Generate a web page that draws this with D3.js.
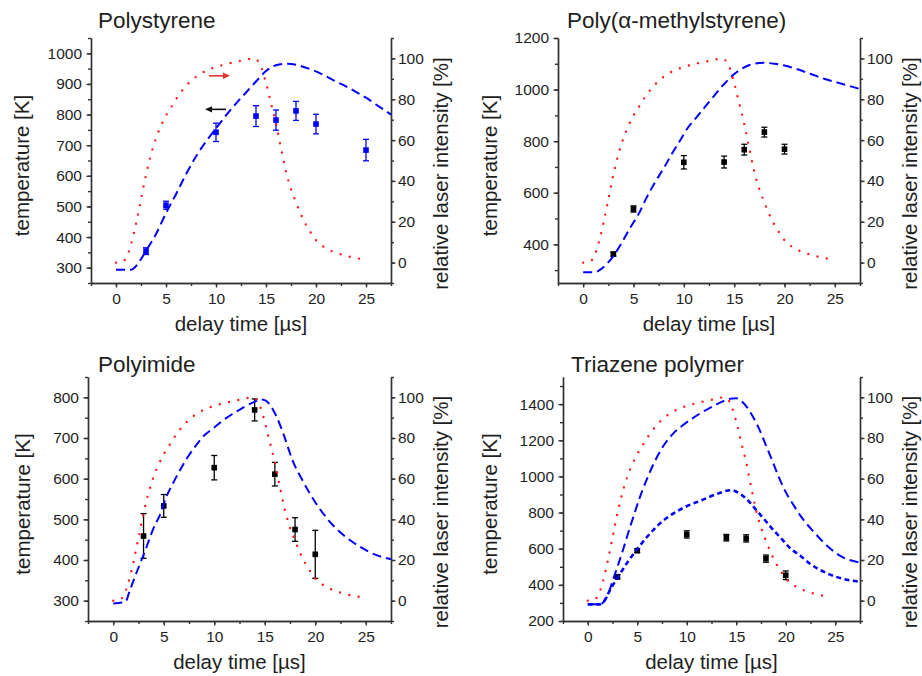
<!DOCTYPE html>
<html><head><meta charset="utf-8">
<script src="https://cdn.jsdelivr.net/npm/d3@7/dist/d3.min.js"></script>
<style>
body{margin:0;background:#fff;}
svg{display:block;font-family:"Liberation Sans",Arial,Helvetica,sans-serif;}
</style></head><body>
<svg id="chart" width="922" height="676"></svg>
<script>
// ---------- shared data ----------
const timeTicks = [0, 5, 10, 15, 20, 25];
const timeMinorTicks = [-2.5, 0, 2.5, 5, 7.5, 10, 12.5, 15, 17.5, 20, 22.5, 25, 27.5];
const intensityTicks = [0, 20, 40, 60, 80, 100];
const intensityMinorTicks = [-10, 0, 10, 20, 30, 40, 50, 60, 70, 80, 90, 100, 110];

// relative laser intensity [%] (red dotted)
const laserTime = [0, 0.5, 1, 1.5, 2, 2.5, 3, 3.5, 4, 4.5, 5, 5.5, 6, 6.5, 7, 7.5, 8, 9, 10, 11, 12, 13, 13.7, 14.1, 14.5, 15, 15.5, 16, 16.5, 17, 17.5, 18, 18.5, 19, 19.5, 20, 21, 22, 23, 24, 24.5];
const laserIntensity = [0, 0.3, 2, 9, 19, 31, 43, 53, 61, 67, 72, 76, 80, 83.5, 86.5, 89, 91, 94, 95.8, 97.2, 98.3, 99.3, 100, 99.2, 96, 88, 78, 68, 56, 44.5, 36, 29.5, 23.5, 18.5, 14.5, 11, 7, 4.8, 3.3, 2.2, 1.8];

// ---------- Polystyrene ----------
const psTempTicks = [300, 400, 500, 600, 700, 800, 900, 1000];
const psTempMinor = [250, 300, 350, 400, 450, 500, 550, 600, 650, 700, 750, 800, 850, 900, 950, 1000, 1050];
const psSimTime = [0, 1.5, 2.0, 2.5, 3.0, 4.0, 5.0, 6.0, 7.0, 8.0, 9.0, 10.0, 11.0, 12.0, 13.0, 14.0, 15.0, 15.5, 16.0, 17.0, 18.0, 19.0, 20.0, 21.0, 22.0, 23.0, 24.0, 25.0, 26.0, 27.5];
const psSimTemp = [293, 293, 305, 328, 355, 410, 478, 540, 605, 663, 712, 755, 797, 836, 872, 908, 942, 954, 961, 966, 963, 953, 941, 925, 908, 892, 874, 855, 833, 800];
const psExpTime = [3, 5, 10, 14, 16, 18, 20, 25];
const psExpTemp = [354, 504, 742, 795, 782, 812, 769, 684];
const psExpErr = [11, 13, 30, 34, 33, 31, 32, 35];
const psArrowRedTime = [9.3, 11.4], psArrowRedIntensity = 91.5;
const psArrowBlackTime = [11.0, 8.9], psArrowBlackTemp = 817;

// ---------- Poly(alpha-methylstyrene) ----------
const pamsTempTicks = [400, 600, 800, 1000, 1200];
const pamsTempMinor = [300, 400, 500, 600, 700, 800, 900, 1000, 1100, 1200];
const pamsSimTime = [0, 1.2, 1.7, 2.3, 3, 3.8, 4.7, 5.5, 6.3, 7.1, 8, 8.8, 9.6, 10.4, 11.3, 12.1, 12.9, 13.9, 14.9, 15.6, 16.6, 17.9, 19, 20, 21, 22, 23, 24, 25, 26, 27.5];
const pamsSimTemp = [292, 292, 302, 322, 354, 404, 466, 517, 581, 638, 695, 750, 801, 852, 894, 933, 971, 1017, 1057, 1077, 1096, 1104, 1100, 1093, 1082, 1069, 1055, 1041, 1030, 1019, 1002];
const pamsExpTime = [3, 5, 10, 14, 16, 18, 20];
const pamsExpTemp = [362, 537, 718, 719, 767, 835, 769];
const pamsExpErr = [8, 12, 26, 23, 21, 19, 19];

// ---------- Polyimide ----------
const piTempTicks = [300, 400, 500, 600, 700, 800];
const piTempMinor = [250, 300, 350, 400, 450, 500, 550, 600, 650, 700, 750, 800, 850];
const piSimTime = [0, 1.2, 1.6, 2.1, 2.8, 3.3, 3.9, 4.6, 5.25, 5.9, 6.7, 7.4, 8.2, 9, 9.9, 10.9, 12, 13, 14, 14.6, 15.1, 15.5, 16.16, 16.82, 17.8, 18.8, 19.95, 21.27, 22.76, 24.4, 26.06, 27.5];
const piSimTemp = [293, 297, 322, 356, 400, 432, 473, 510, 555, 588, 625, 654, 682, 706, 724, 744, 762, 777, 789, 795, 792, 782, 753, 712, 642, 593, 544, 499, 462, 433, 412, 402];
const piExpTime = [3, 5, 10, 14, 16, 18, 20];
const piExpTemp = [459, 533, 627, 769, 611, 475, 414];
const piExpErr = [55, 28, 30, 27, 29, 29, 59];

// ---------- Triazene polymer ----------
const tpTempTicks = [200, 400, 600, 800, 1000, 1200, 1400];
const tpTempMinor = [200, 300, 400, 500, 600, 700, 800, 900, 1000, 1100, 1200, 1300, 1400, 1500];
const tpSimTimeA = [0, 1.2, 1.6, 2.0, 2.5, 3.0, 3.6, 4.1, 4.6, 5.2, 5.9, 6.7, 7.6, 8.6, 9.6, 10.9, 12.3, 13.6, 14.3, 15.0, 15.8, 16.6, 17.3, 18, 18.7, 19.3, 20, 20.7, 21.7, 22.8, 24.2, 25.5, 27.4];
const tpSimTempA = [292, 292, 305, 340, 420, 500, 600, 690, 775, 875, 975, 1075, 1165, 1235, 1283, 1333, 1378, 1414, 1429, 1432, 1402, 1338, 1264, 1172, 1079, 996, 913, 849, 766, 695, 615, 560, 524];
const tpSimTimeB = [0, 1.2, 1.6, 2.0, 2.5, 3.0, 4.0, 5.0, 6.0, 7.3, 8.5, 10, 11.5, 13, 14.5, 15.2, 16.1, 17, 17.8, 18.8, 19.5, 20.5, 21.5, 22.5, 24, 25.8, 27.4];
const tpSimTempB = [292, 292, 305, 345, 395, 438, 524, 598, 666, 740, 790, 835, 868, 902, 924, 910, 872, 815, 765, 700, 660, 600, 560, 515, 468, 433, 418];
const tpExpTime = [3, 5, 10, 14, 16, 18, 20];
const tpExpTemp = [445, 589, 679, 661, 657, 545, 453];
const tpExpErr = [12, 10, 20, 18, 20, 20, 24];

// ---------- layout ----------
const panels = [
  {title: "Polystyrene", box: [91, 391, 38, 283], tDom: [250, 1050], ticks: psTempTicks, minor: psTempMinor,
   sims: [{t: psSimTime, T: psSimTemp, dash: "9,5", w: 2}], exp: {t: psExpTime, T: psExpTemp, e: psExpErr}, expColor: "#0000ff",
   titleX: 98, titleY: 28, ylabX: 29, arrows: true},
  {title: "Poly(\u03b1-methylstyrene)", box: [558, 860, 38, 283], tDom: [250, 1200], ticks: pamsTempTicks, minor: pamsTempMinor,
   sims: [{t: pamsSimTime, T: pamsSimTemp, dash: "9,5", w: 2}], exp: {t: pamsExpTime, T: pamsExpTemp, e: pamsExpErr}, expColor: "#000",
   titleX: 567, titleY: 28, ylabX: 497},
  {title: "Polyimide", box: [88, 391, 377, 621], tDom: [250, 850], ticks: piTempTicks, minor: piTempMinor,
   sims: [{t: piSimTime, T: piSimTemp, dash: "9,5", w: 2}], exp: {t: piExpTime, T: piExpTemp, e: piExpErr}, expColor: "#000",
   titleX: 98, titleY: 372, ylabX: 30},
  {title: "Triazene polymer", box: [563, 860, 377, 621], tDom: [200, 1550], ticks: tpTempTicks, minor: tpTempMinor,
   sims: [{t: tpSimTimeA, T: tpSimTempA, dash: "9,5", w: 2}, {t: tpSimTimeB, T: tpSimTempB, dash: "5,3.5", w: 2.6}],
   exp: {t: tpExpTime, T: tpExpTemp, e: tpExpErr}, expColor: "#000",
   titleX: 571, titleY: 372, ylabX: 497}
];

const svg = d3.select("#chart");
const axisColor = "#333", textColor = "#1e1e1e";
const fmt = d3.format("d");

panels.forEach(p => {
  const [L, R, Tp, B] = p.box;
  const x = d3.scaleLinear().domain([-2.5, 27.5]).range([L, R]);
  const y = d3.scaleLinear().domain(p.tDom).range([B, Tp]);
  const yr = d3.scaleLinear().domain([-10, 110]).range([B, Tp]);
  const g = svg.append("g");

  // minor ticks
  g.append("g").attr("transform", `translate(0,${B})`)
    .call(d3.axisBottom(x).tickValues(timeMinorTicks).tickSize(3).tickFormat("").tickSizeOuter(0));
  g.append("g").attr("transform", `translate(${L},0)`)
    .call(d3.axisLeft(y).tickValues(p.minor).tickSize(3).tickFormat("").tickSizeOuter(0));
  g.append("g").attr("transform", `translate(${R},0)`)
    .call(d3.axisRight(yr).tickValues(intensityMinorTicks).tickSize(3).tickFormat("").tickSizeOuter(0));
  // major ticks
  g.append("g").attr("transform", `translate(0,${B})`)
    .call(d3.axisBottom(x).tickValues(timeTicks).tickFormat(fmt).tickSize(4.5).tickPadding(5).tickSizeOuter(0));
  g.append("g").attr("transform", `translate(${L},0)`)
    .call(d3.axisLeft(y).tickValues(p.ticks).tickFormat(fmt).tickSize(4.5).tickPadding(4.5).tickSizeOuter(0));
  g.append("g").attr("transform", `translate(${R},0)`)
    .call(d3.axisRight(yr).tickValues(intensityTicks).tickFormat(fmt).tickSize(4.5).tickPadding(2.5).tickSizeOuter(0));
  g.selectAll(".domain, .tick line").attr("stroke", axisColor).attr("stroke-width", 1.4);
  g.selectAll(".tick text").attr("font-size", 15.5).attr("fill", textColor)
    .attr("font-family", '"Liberation Sans",Arial,sans-serif');

  // experimental points with error bars
  const ex = p.exp;
  const pts = ex.t.map((t, i) => ({t, T: ex.T[i], e: ex.e[i]}));
  const pg = g.append("g");
  pg.selectAll("line.eb").data(pts).join("line")
    .attr("x1", d => x(d.t)).attr("x2", d => x(d.t))
    .attr("y1", d => y(d.T - d.e)).attr("y2", d => y(d.T + d.e))
    .attr("stroke", p.expColor).attr("stroke-width", 1.3);
  [1, -1].forEach(s => {
    pg.selectAll(null).data(pts).join("line")
      .attr("x1", d => x(d.t) - 3).attr("x2", d => x(d.t) + 3)
      .attr("y1", d => y(d.T + s * d.e)).attr("y2", d => y(d.T + s * d.e))
      .attr("stroke", p.expColor).attr("stroke-width", 1.3);
  });
  pg.selectAll("rect").data(pts).join("rect")
    .attr("x", d => x(d.t) - 2.8).attr("y", d => y(d.T) - 2.8)
    .attr("width", 5.6).attr("height", 5.6).attr("fill", p.expColor);

  // laser intensity (red dotted, right axis)
  const laserLine = d3.line().x(d => x(d[0])).y(d => yr(d[1])).curve(d3.curveMonotoneX);
  g.append("path").datum(laserTime.map((t, i) => [t, laserIntensity[i]]))
    .attr("d", laserLine).attr("fill", "none").attr("stroke", "#ff1a1a")
    .attr("stroke-width", 2.4).attr("stroke-linecap", "round").attr("stroke-dasharray", "0,9.5");

  // simulations (blue dashed, left axis)
  const simLine = d3.line().x(d => x(d[0])).y(d => y(d[1])).curve(d3.curveMonotoneX);
  p.sims.forEach(s => {
    g.append("path").datum(s.t.map((t, i) => [t, s.T[i]]))
      .attr("d", simLine).attr("fill", "none").attr("stroke", "#0000ff")
      .attr("stroke-width", s.w).attr("stroke-dasharray", s.dash);
  });

  // arrows
  if (p.arrows) {
    const drawArrow = (x1, x2, yy, col) => {
      const dir = Math.sign(x2 - x1);
      g.append("line").attr("x1", x1).attr("x2", x2 - dir * 5).attr("y1", yy).attr("y2", yy)
        .attr("stroke", col).attr("stroke-width", 1.6);
      g.append("path").attr("d", `M${x2},${yy} L${x2 - dir * 7},${yy - 3.2} L${x2 - dir * 7},${yy + 3.2} Z`)
        .attr("fill", col);
    };
    drawArrow(x(psArrowRedTime[0]), x(psArrowRedTime[1]), yr(psArrowRedIntensity), "#e8312c");
    drawArrow(x(psArrowBlackTime[0]), x(psArrowBlackTime[1]), y(psArrowBlackTemp), "#111");
  }

  // texts
  g.append("text").attr("x", p.titleX).attr("y", p.titleY).text(p.title)
    .attr("font-size", 22.5).attr("fill", textColor);
  g.append("text").attr("x", (L + R) / 2).attr("y", B + 48).attr("text-anchor", "middle")
    .text("delay time [\u00b5s]").attr("font-size", 20.5).attr("fill", textColor);
  g.append("text").attr("transform", `translate(${p.ylabX},${(Tp + B) / 2 + 5}) rotate(-90)`)
    .attr("text-anchor", "middle").text("temperature [K]").attr("font-size", 20.5).attr("fill", textColor);
  g.append("text").attr("transform", `translate(${R + 57},${(Tp + B) / 2 + 13}) rotate(-90)`)
    .attr("text-anchor", "middle").text("relative laser intensity [%]").attr("font-size", 20.5).attr("fill", textColor);
});
</script>
</body></html>
